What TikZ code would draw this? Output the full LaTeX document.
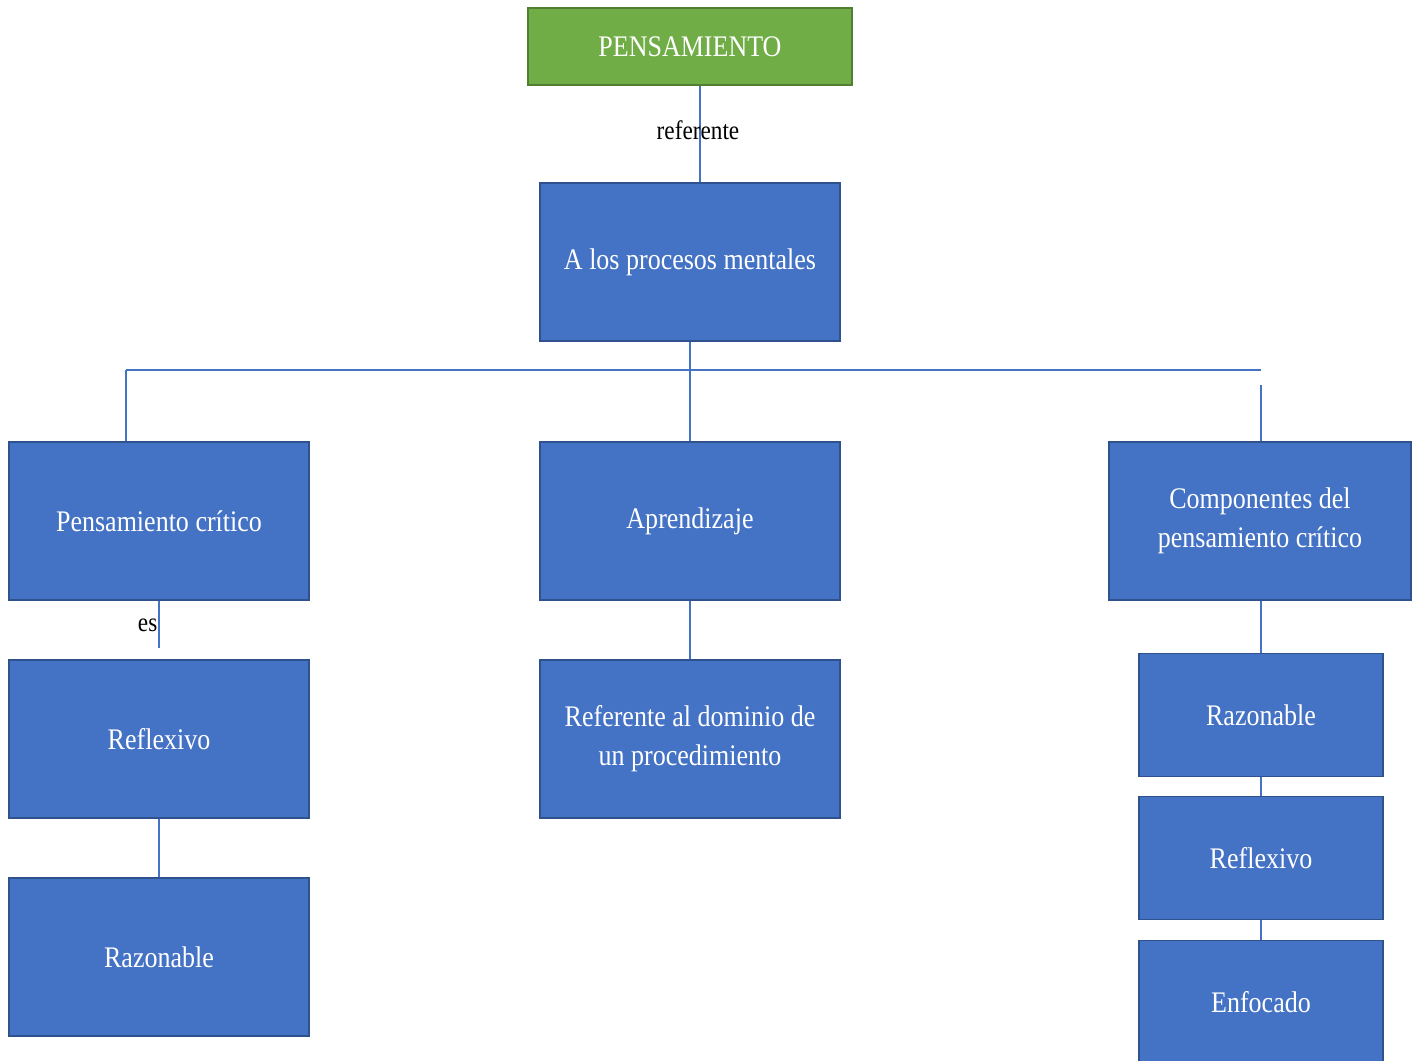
\documentclass[tikz,border=0pt]{standalone}
\usepackage{fontspec}
\setmainfont{Liberation Serif}[FakeStretch=0.87]
\usetikzlibrary{positioning}
\definecolor{boxblue}{HTML}{4472C4}
\definecolor{boxborder}{HTML}{2F528F}
\definecolor{boxgreen}{HTML}{70AD47}
\definecolor{greenborder}{HTML}{507E32}
\tikzset{
  bluebox/.style={draw=boxborder, line width=0.45pt, fill=boxblue, text=white,
    minimum width=3cm, minimum height=1.58cm, align=center, inner sep=2pt,
    font=\fontsize{8.5}{11.1}\selectfont},
  smallbox/.style={bluebox, minimum width=2.44cm, minimum height=1.23cm},
  greenbox/.style={draw=greenborder, line width=0.45pt, fill=boxgreen, text=white,
    minimum width=3.24cm, minimum height=0.77cm, font=\fontsize{8.5}{11.1}\selectfont},
  conn/.style={draw=boxblue, line width=0.45pt},
  lbl/.style={text=black, inner sep=0pt, font=\fontsize{7.6}{9}\selectfont}
}
\begin{document}
\begin{tikzpicture}[x=0.01cm, y=-0.01cm]
\useasboundingbox (0,0) rectangle (1418,1061);
% nodes
\node[greenbox] (pens) at (690,46.5) {PENSAMIENTO};
\node[bluebox] (proc) at (690,262) {A los procesos mentales};
\node[bluebox] (pc) at (159,521) {Pensamiento crítico};
\node[bluebox] (apr) at (690,521) {\strut Aprendizaje};
\node[bluebox, minimum width=3.02cm] (comp) at (1260,521) {Componentes del\\pensamiento crítico};
\node[bluebox] (refl1) at (159,739) {Reflexivo};
\node[bluebox] (raz1) at (159,957) {Razonable};
\node[bluebox] (dom) at (690,739) {Referente al dominio de\\un procedimiento};
\node[smallbox] (raz2) at (1261,715) {Razonable};
\node[smallbox] (refl2) at (1261,858) {Reflexivo};
\node[smallbox] (enf) at (1261,1002) {Enfocado};
% coordinates
\coordinate (busL) at (126,370);
\coordinate (busR) at (1261,370);
\coordinate (busR2) at (1261,385);
\coordinate (esEnd) at (159,648);
% connectors
\draw[conn] ([xshift=0.1cm]pens.south) -- ([xshift=0.1cm]proc.north);
\node[lbl] (lref) at (698,130) {referente};
\draw[conn] (proc.south) -- (apr.north);
\draw[conn] (busL) -- (busR);
\draw[conn] (busL) -- (busL |- pc.north);
\draw[conn] (busR2) -- (busR2 |- comp.north);
\draw[conn] (pc.south) -- (esEnd);
\node[lbl, anchor=east] (les) at (158,625) {es};
\draw[conn] (refl1.south) -- (raz1.north);
\draw[conn] (apr.south) -- (dom.north);
\draw[conn] (raz2.north |- comp.south) -- (raz2.north);
\draw[conn] (raz2.south) -- (refl2.north);
\draw[conn] (refl2.south) -- (enf.north);
\end{tikzpicture}
\end{document}
